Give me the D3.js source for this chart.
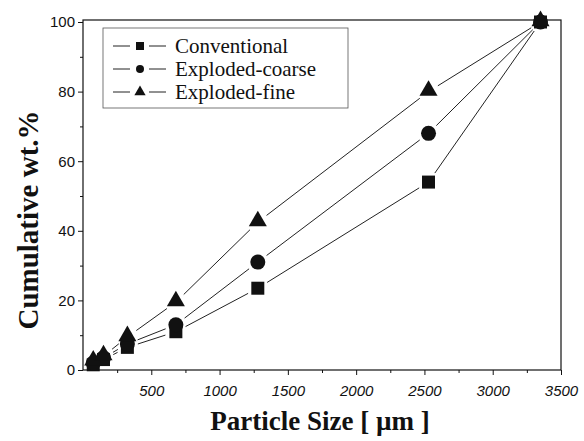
<!DOCTYPE html>
<html>
<head>
<meta charset="utf-8">
<script src="https://cdn.jsdelivr.net/npm/d3@7"></script>
<style>
  body { margin: 0; background: #fff; }
  svg { display: block; }
</style>
</head>
<body>
<svg id="chart" width="584" height="441"></svg>
<script>
// sieve sizes (um) and cumulative wt.%
const sizes = [75, 150, 325, 680, 1280, 2530, 3350];
const conventional = [1.5, 3, 6.5, 11, 23.5, 54, 100];
const coarse = [2, 3.5, 7.5, 13, 31, 68, 100];
const fine = [2.5, 4, 9.5, 19.5, 42.5, 80, 100];
const seriesNames = ["Conventional", "Exploded-coarse", "Exploded-fine"];
const xTicks = [500, 1000, 1500, 2000, 2500, 3000, 3500];
const yTicks = [0, 20, 40, 60, 80, 100];

const svg = d3.select("#chart");
const x = d3.scaleLinear().domain([0, 3500]).range([83, 561]);
const y = d3.scaleLinear().domain([0, 100]).range([370, 22]);

const series = [
  { name: seriesNames[0], vals: conventional, shape: "square", size: 13 },
  { name: seriesNames[1], vals: coarse, shape: "circle", size: 15 },
  { name: seriesNames[2], vals: fine, shape: "triangle", size: 16 }
];

function symbolPath(shape, s) {
  if (shape === "square") return d3.symbol(d3.symbolSquare, s * s)();
  if (shape === "circle") return d3.symbol(d3.symbolCircle, Math.PI * s * s / 4)();
  return d3.symbol(d3.symbolTriangle, s * s * 0.55)();
}

// frame
svg.append("rect")
  .attr("x", x(0)).attr("y", y(100) - 2)
  .attr("width", x(3500) - x(0)).attr("height", y(0) - y(100) + 2)
  .attr("fill", "none").attr("stroke", "#111").attr("stroke-width", 1.2);

// bottom axis
const xAxis = svg.append("g").attr("transform", `translate(0,${y(0)})`)
  .call(d3.axisBottom(x).tickValues(xTicks).tickSize(5).tickPadding(10).tickFormat(d3.format("d")))
  .call(g => g.select(".domain").remove());
xAxis.selectAll("text").attr("font-family", "Liberation Sans, Arial, sans-serif")
  .attr("font-size", 15).attr("font-style", "italic").attr("fill", "#111");
svg.append("g").attr("transform", `translate(0,${y(0)})`)
  .call(d3.axisBottom(x).tickValues(d3.range(250, 3500, 500)).tickSize(3).tickFormat(""))
  .call(g => g.select(".domain").remove());

// left axis
const yAxis = svg.append("g").attr("transform", `translate(${x(0)},0)`)
  .call(d3.axisLeft(y).tickValues(yTicks).tickSize(5).tickPadding(3))
  .call(g => g.select(".domain").remove());
yAxis.selectAll("text").attr("font-family", "Liberation Sans, Arial, sans-serif")
  .attr("font-size", 15).attr("fill", "#111");
svg.append("g").attr("transform", `translate(${x(0)},0)`)
  .call(d3.axisLeft(y).tickValues(d3.range(10, 100, 20)).tickSize(3).tickFormat(""))
  .call(g => g.select(".domain").remove());

svg.selectAll(".tick line").attr("stroke", "#111");

// lines with gaps around the symbols
const gap = 11;
series.forEach(s => {
  const pts = sizes.map((v, i) => [x(v), y(s.vals[i])]);
  for (let i = 0; i < pts.length - 1; i++) {
    const [x1, y1] = pts[i], [x2, y2] = pts[i + 1];
    const len = Math.hypot(x2 - x1, y2 - y1);
    if (len <= 2 * gap + 2) continue;
    const ux = (x2 - x1) / len, uy = (y2 - y1) / len;
    svg.append("line")
      .attr("x1", x1 + ux * gap).attr("y1", y1 + uy * gap)
      .attr("x2", x2 - ux * gap).attr("y2", y2 - uy * gap)
      .attr("stroke", "#222").attr("stroke-width", 1);
  }
});

// symbols
series.forEach(s => {
  svg.append("g").selectAll("path")
    .data(sizes.map((v, i) => [v, s.vals[i]]))
    .join("path")
    .attr("d", symbolPath(s.shape, s.size))
    .attr("transform", d => `translate(${x(d[0])},${y(d[1]) + (s.shape === "triangle" ? -1 : 0)})`)
    .attr("fill", "#111");
});

// legend
const lg = svg.append("g");
lg.append("rect").attr("x", 103).attr("y", 28).attr("width", 245).attr("height", 80)
  .attr("fill", "#fff").attr("stroke", "#555").attr("stroke-width", 0.8);
series.forEach((s, i) => {
  const cy = 46 + i * 23;
  const row = lg.append("g");
  row.append("line").attr("x1", 113).attr("x2", 130).attr("y1", cy).attr("y2", cy)
    .attr("stroke", "#222");
  row.append("line").attr("x1", 149).attr("x2", 166).attr("y1", cy).attr("y2", cy)
    .attr("stroke", "#222");
  row.append("path").attr("d", symbolPath(s.shape, s.shape === "triangle" ? 10 : 8))
    .attr("transform", `translate(140,${cy})`).attr("fill", "#111");
  row.append("text").attr("x", 175).attr("y", cy + 7)
    .attr("font-family", "Liberation Serif, Times New Roman, serif")
    .attr("font-size", 21).attr("fill", "#111").text(s.name);
});

// axis titles
svg.append("text").attr("x", 320).attr("y", 430).attr("text-anchor", "middle")
  .attr("font-family", "Liberation Serif, Times New Roman, serif")
  .attr("font-weight", "bold").attr("font-size", 27).attr("fill", "#111")
  .text("Particle Size [ \u00b5m ]");
svg.append("text").attr("transform", "translate(38,220) rotate(-90)").attr("text-anchor", "middle")
  .attr("font-family", "Liberation Serif, Times New Roman, serif")
  .attr("font-weight", "bold").attr("font-size", 29).attr("fill", "#111")
  .text("Cumulative wt.%");
</script>
</body>
</html>
